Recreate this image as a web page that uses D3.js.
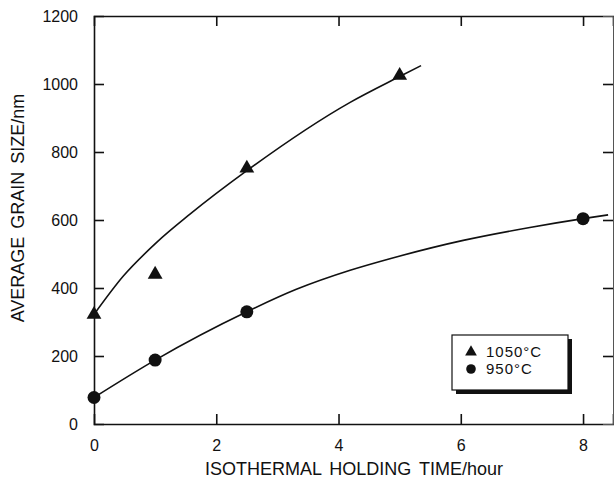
<!DOCTYPE html>
<html>
<head>
<meta charset="utf-8">
<script src="https://cdn.jsdelivr.net/npm/d3@7"></script>
<style>
  body { margin: 0; background: #fff; }
  text { font-family: 'Liberation Sans', Arial, sans-serif; fill: #111; }
</style>
</head>
<body>
<div class="chart"></div>
<script>
// measured points
const hours1050 = [0, 1, 2.5, 5];
const size1050 = [322, 440, 752, 1025];
const hours950 = [0, 1, 2.5, 8];
const size950 = [78, 188, 330, 604];

// fitted curves
const fitHours1050 = [0, 0.48, 1.025, 1.57, 2.5, 4.19, 5, 5.35];
const fitSize1050 = [322, 435, 534, 617, 745, 946, 1022, 1054];
const fitHours950 = [0, 1, 2.5, 3.31, 4.19, 4.84, 6.04, 7.13, 8, 8.41];
const fitSize950 = [78, 188, 330, 396, 452, 486, 540, 578, 604, 615];

const xTicks = [0, 2, 4, 6, 8];
const yTicks = [0, 200, 400, 600, 800, 1000, 1200];
const legendLabels = ['1050°C', '950°C'];

const W = 614, H = 478;
const margin = { top: 16, right: 1, bottom: 54, left: 94 };
const width = W - margin.left - margin.right;
const height = H - margin.top - margin.bottom;

const svg = d3.select('.chart').append('svg')
  .attr('width', W).attr('height', H);

const group = svg.append('g')
  .attr('transform', 'translate(' + margin.left + ',' + margin.top + ')');

const xScale = d3.scaleLinear().domain([0, 8.49]).range([0, width]);
const yScale = d3.scaleLinear().domain([0, 1200]).range([height, 0]);

// axes: ticks point inward on all four sides
const tickLen = 10;
const xAxis = d3.axisBottom(xScale).tickValues(xTicks).tickSize(-tickLen)
  .tickPadding(tickLen + 6).tickFormat(d3.format('d'));
const yAxis = d3.axisLeft(yScale).tickValues(yTicks).tickSize(-tickLen)
  .tickPadding(tickLen + 6).tickFormat(d3.format('d'));

const gx = group.append('g').attr('transform', `translate(0, ${height})`).call(xAxis);
const gy = group.append('g').call(yAxis);
const gTop = group.append('g')
  .call(d3.axisTop(xScale).tickValues(xTicks.filter((d) => d > 0)).tickSize(-tickLen).tickFormat(''));
const gRight = group.append('g').attr('transform', `translate(${width}, 0)`)
  .call(d3.axisRight(yScale).tickValues(yTicks.filter((d) => d > 0 && d < 1200)).tickSize(-tickLen).tickFormat(''));

[gx, gy, gTop].forEach((g) => g.select('.domain').attr('stroke', '#111').attr('stroke-width', 1.6));
gRight.select('.domain').attr('stroke', '#555').attr('stroke-width', 1);
group.selectAll('.tick line').attr('stroke', '#111').attr('stroke-width', 1.6);
gx.selectAll('.tick line').filter((d) => d === 0).remove();
gy.selectAll('.tick line').filter((d) => d === 0 || d === 1200).remove();
group.selectAll('.tick text').attr('font-size', 16).attr('fill', '#111')
  .attr('font-family', "'Liberation Sans', Arial, sans-serif");

// axis titles
svg.append('text')
  .attr('x', 354).attr('y', 475)
  .attr('text-anchor', 'middle')
  .attr('font-size', 18)
  .attr('word-spacing', 3)
  .text('ISOTHERMAL HOLDING TIME/hour');

svg.append('text')
  .attr('transform', 'translate(24, 208) rotate(-90)')
  .attr('text-anchor', 'middle')
  .attr('font-size', 18)
  .attr('word-spacing', 3)
  .text('AVERAGE GRAIN SIZE/nm');

// fitted curves
const line = d3.line()
  .x((d) => xScale(d[0]))
  .y((d) => yScale(d[1]))
  .curve(d3.curveMonotoneX);

[[fitHours1050, fitSize1050], [fitHours950, fitSize950]].forEach(([xs, ys]) => {
  group.append('path')
    .datum(xs.map((x, i) => [x, ys[i]]))
    .attr('fill', 'none')
    .attr('stroke', '#111')
    .attr('stroke-width', 1.6)
    .attr('d', line);
});

// markers
const tri = d3.symbol().type(d3.symbolTriangle).size(95);
group.selectAll('.tri')
  .data(hours1050.map((x, i) => [x, size1050[i]]))
  .join('path')
  .attr('class', 'tri')
  .attr('d', tri)
  .attr('fill', '#111')
  .attr('transform', (d) => `translate(${xScale(d[0])}, ${yScale(d[1])})`);

group.selectAll('.dot')
  .data(hours950.map((x, i) => [x, size950[i]]))
  .join('circle')
  .attr('class', 'dot')
  .attr('r', 6.5)
  .attr('fill', '#111')
  .attr('cx', (d) => xScale(d[0]))
  .attr('cy', (d) => yScale(d[1]));

// legend box with drop shadow
const legend = svg.append('g').attr('transform', 'translate(452, 335)');
legend.append('rect')
  .attr('x', 4).attr('y', 4).attr('width', 116).attr('height', 55)
  .attr('fill', '#111');
legend.append('rect')
  .attr('width', 116).attr('height', 55)
  .attr('fill', '#fff').attr('stroke', '#111').attr('stroke-width', 1.2);

legend.append('path')
  .attr('d', d3.symbol().type(d3.symbolTriangle).size(60)())
  .attr('fill', '#111')
  .attr('transform', 'translate(19, 17)');
legend.append('circle')
  .attr('cx', 19).attr('cy', 34).attr('r', 4.8).attr('fill', '#111');

legend.selectAll('.legend-label')
  .data(legendLabels)
  .join('text')
  .attr('class', 'legend-label')
  .attr('x', 34)
  .attr('y', (d, i) => 22 + i * 17)
  .attr('font-size', 15)
  .attr('letter-spacing', 1)
  .text((d) => d);
</script>
</body>
</html>
